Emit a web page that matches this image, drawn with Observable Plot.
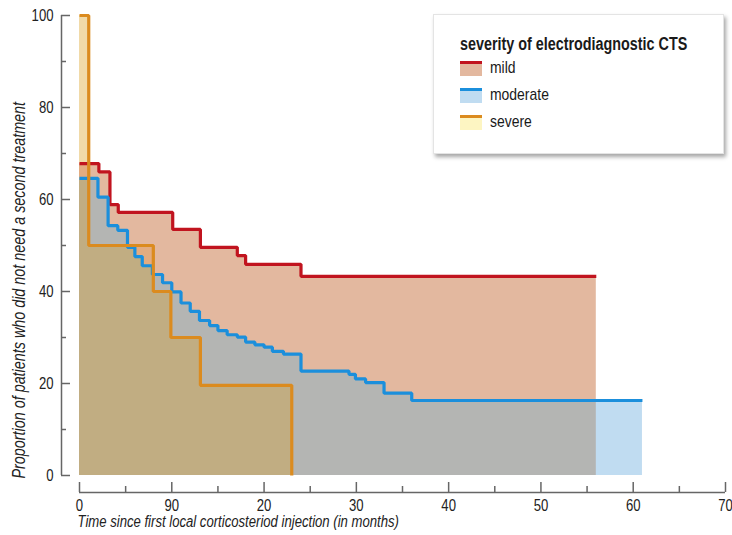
<!DOCTYPE html>
<html>
<head>
<meta charset="utf-8">
<script src="https://cdn.jsdelivr.net/npm/d3@7"></script>
<script src="https://cdn.jsdelivr.net/npm/@observablehq/plot@0.6"></script>
<style>
  body { margin: 0; background: #fff; }
  #wrap { position: relative; width: 732px; height: 535px; font-family: "Liberation Sans", Arial, sans-serif; }
  #legend { position: absolute; left: 433px; top: 14px; width: 291px; height: 140px; background: #fff;
            border: 1px solid #e4e4e4; box-shadow: 2px 3px 4px rgba(0,0,0,0.35); box-sizing: border-box; }
  #legend .title { position: absolute; left: 26px; top: 19px; font-size: 17.5px; font-weight: bold; color: #1a1a1a; white-space: nowrap;
                   transform: scaleX(0.82); transform-origin: 0 50%; }
  #legend .item { position: absolute; left: 26px; height: 16px; }
  #legend .sw { position: absolute; left: 0; top: 0; width: 22px; height: 12px; border-top: 3px solid; }
  #legend .lab { position: absolute; left: 30px; top: -3px; font-size: 17px; color: #1a1a1a; white-space: nowrap;
                 transform: scaleX(0.82); transform-origin: 0 50%; }
</style>
</head>
<body>
<div id="wrap"></div>
<script>
// ---- data ----
const seriesNames = ["mild", "moderate", "severe"];
const legendTitle = "severity of electrodiagnostic CTS";
const xTitle = "Time since first local corticosteriod injection (in months)";
const yTitle = "Proportion of patients who did not need a second treatment";

const mildMonths = [0, 2.1, 3.3, 4.2, 10.1, 13.1, 17.1, 18.0, 24.0, 56];
const mildValues = [67.8, 66.0, 58.9, 57.2, 53.5, 49.6, 47.8, 45.9, 43.3, 43.3];

const moderateMonths = [0, 2.0, 3.1, 4.15, 5.2, 6.0, 6.8, 7.9, 9.0, 10.0, 11.0, 12.0, 13.0, 14.1, 15.0, 16.0, 17.1, 18.0, 19.0, 20.0, 20.9, 22.1, 24.0, 29.2, 29.9, 31.0, 33.0, 36.0, 61];
const moderateValues = [64.6, 60.5, 54.3, 53.3, 49.6, 47.6, 45.6, 43.7, 41.9, 39.9, 37.5, 35.7, 33.7, 32.6, 31.5, 30.6, 30.1, 29.0, 28.4, 27.9, 27.0, 26.4, 22.7, 22.0, 21.0, 20.2, 17.9, 16.3, 16.3];

const severeMonths = [0, 1.0, 8.0, 9.9, 13.1, 23.0];
const severeValues = [100, 50, 40, 30, 19.6, 19.6];

const xTicks = [0, 10, 20, 30, 40, 50, 60, 70];
const xTickLabels = ["0", "90", "20", "30", "40", "50", "60", "70"];
const xMinorTicks = [5, 15, 25, 35, 45, 55, 65];
const yTicks = [0, 20, 40, 60, 80, 100];
const yMinorTicks = [10, 30, 50, 70, 90];

// ---- styles ----
const lineColor = {mild: "#c1141f", moderate: "#1b8fdc", severe: "#db8b1f"};
const legendFill = {mild: "#e3b89f", moderate: "#c0dcf1", severe: "#fdf5c2"};
const FONT = '"Liberation Sans", Arial, sans-serif';
const CONDENSE = 0.82;

// ---- helpers ----
const pts = (months, values) => months.map((m, i) => ({x: m, y: values[i]}));
function valueAt(months, values, x) {
  if (x < months[0] || x > months[months.length - 1]) return null;
  let v = null;
  for (let i = 0; i < months.length; i++) if (months[i] <= x) v = values[i];
  return v;
}
function minCurve(list) {
  const end = Math.min(...list.map(([m]) => m[m.length - 1]));
  const xs = Array.from(new Set(list.flatMap(([m]) => m))).filter(x => x <= end).sort((a, b) => a - b);
  if (!xs.includes(end)) xs.push(end);
  return xs.map(x => ({x, y: Math.min(...list.map(([m, v]) => valueAt(m, v, x)))}));
}
const M = [mildMonths, mildValues];
const D = [moderateMonths, moderateValues];
const S = [severeMonths, severeValues];
const severeLine = pts(severeMonths, severeValues).concat([{x: severeMonths[severeMonths.length - 1], y: 0}]);

const area = (data, fill) => Plot.areaY(data, {x: "x", y: "y", curve: "step-after", fill});
const line = (data, stroke) => Plot.line(data, {x: "x", y: "y", curve: "step-after", stroke, strokeWidth: 3.2, strokeLinejoin: "miter", strokeLinecap: "butt"});

const chart = Plot.plot({
  width: 732, height: 535,
  marginLeft: 79, marginRight: 7, marginTop: 15, marginBottom: 60,
  x: {domain: [0, 70]},
  y: {domain: [0, 100]},
  style: {fontFamily: FONT, fontSize: "15.5px", background: "white", color: "#222"},
  marks: [
    area(minCurve([M]), "#e3b89f"),
    area(minCurve([D]), "#c0dcf1"),
    area(minCurve([M, D]), "#b4b5b3"),
    area(minCurve([S]), "#f1daa8"),
    area(minCurve([S, M]), "#e3ac80"),
    area(minCurve([S, M, D]), "#c1ad82"),
    line(pts(mildMonths, mildValues), lineColor.mild),
    line(pts(moderateMonths, moderateValues), lineColor.moderate),
    line(severeLine, lineColor.severe),
    // axis lines
    Plot.ruleX([0], {dx: -18, stroke: "#666", strokeWidth: 1.5}),
    Plot.ruleY([0], {dy: 17, stroke: "#666", strokeWidth: 1.5}),
    // y ticks (pointing inward)
    Plot.ruleY(yTicks, {y: d => d, insetLeft: -18, insetRight: 655, stroke: "#666", strokeWidth: 1.5}),
    Plot.ruleY(yMinorTicks, {y: d => d, insetLeft: -18, insetRight: 659, stroke: "#666", strokeWidth: 1.5}),
    // x ticks (pointing up)
    Plot.ruleX(xTicks, {x: d => d, insetTop: 467, insetBottom: -17, stroke: "#666", strokeWidth: 1.5}),
    Plot.ruleX(xMinorTicks, {x: d => d, insetTop: 471, insetBottom: -17, stroke: "#666", strokeWidth: 1.5}),
    Plot.axisY({ticks: yTicks, tickSize: 0, tickPadding: 26, fill: "#222", fontSize: 16, label: null}),
    Plot.axisX({ticks: xTicks, tickFormat: d => xTickLabels[xTicks.indexOf(d)], tickSize: 0, tickPadding: 24, fill: "#222", fontSize: 16, label: null}),
    Plot.text([xTitle], {frameAnchor: "bottom-left", textAnchor: "start", dx: -2, dy: 51, fontStyle: "italic", fontSize: 16, fill: "#222"}),
    Plot.text([yTitle], {frameAnchor: "bottom-left", textAnchor: "start", rotate: -90, dx: -55, dy: 3, fontStyle: "italic", fontSize: 17.5, fill: "#222"})
  ]
});

const wrap = document.getElementById("wrap");
wrap.appendChild(chart);

// condense all SVG text horizontally (narrow typeface look)
chart.querySelectorAll("text").forEach(el => {
  const L = el.getComputedTextLength();
  if (L > 0) {
    el.setAttribute("textLength", (L * CONDENSE).toFixed(2));
    el.setAttribute("lengthAdjust", "spacingAndGlyphs");
  }
});

// legend (HTML overlay)
const legend = document.createElement("div");
legend.id = "legend";
const t = document.createElement("div");
t.className = "title";
t.textContent = legendTitle;
legend.appendChild(t);
seriesNames.forEach((name, i) => {
  const item = document.createElement("div");
  item.className = "item";
  item.style.top = (46 + i * 27) + "px";
  const sw = document.createElement("div");
  sw.className = "sw";
  sw.style.borderTopColor = lineColor[name];
  sw.style.background = legendFill[name];
  const lab = document.createElement("div");
  lab.className = "lab";
  lab.textContent = name;
  item.appendChild(sw);
  item.appendChild(lab);
  legend.appendChild(item);
});
wrap.appendChild(legend);
</script>
</body>
</html>
